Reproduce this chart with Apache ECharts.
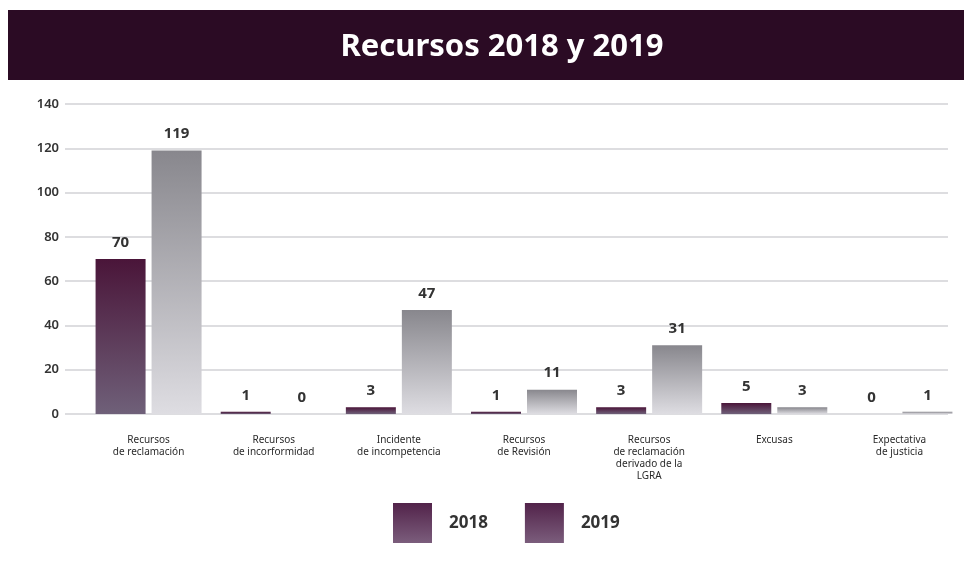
<!DOCTYPE html>
<html><head><meta charset="utf-8">
<script src="https://cdn.jsdelivr.net/npm/echarts@6/dist/echarts.min.js"></script>
<style>html,body{margin:0;padding:0;background:#fff}#c{width:964px;height:564px}</style>
</head><body><div id="c"></div>
<script>
const categories = ['Recursos\nde reclamación','Recursos\nde incorformidad','Incidente\nde incompetencia','Recursos\nde Revisión','Recursos\nde reclamación\nderivado de la\nLGRA','Excusas','Expectativa\nde justicia'];
const values2018 = [70, 1, 3, 1, 3, 5, 0];
const values2019 = [119, 0, 47, 11, 31, 3, 1];
const yTicks = [0, 20, 40, 60, 80, 100, 120, 140];

const grad = (a, b) => new echarts.graphic.LinearGradient(0, 0, 0, 1, [{offset:0,color:a},{offset:1,color:b}]);
const c2018 = grad('#4a1539', '#6f6079');
const c2019 = grad('#88878d', '#dedde2');
const lab = {show:true, position:'top', distance:9, fontFamily:'Noto Sans', fontWeight:'bold', fontSize:15, color:'#333'};

const chart = echarts.init(document.getElementById('c'));
chart.setOption({
  backgroundColor:'#fff',
  animation:false,
  graphic:[{type:'rect', left:8, top:10, shape:{width:956, height:70}, style:{fill:'#2b0b24'}, z:-1}],
  title:{text:'Recursos 2018 y 2019', left:497, textAlign:'center', top:27,
    textStyle:{color:'#fff', fontFamily:'Noto Sans', fontWeight:'bold', fontSize:31}},
  legend:{bottom:16, left:388, itemWidth:39, itemHeight:40, itemGap:37,
    icon:'rect',
    textStyle:{fontFamily:'Noto Sans', fontWeight:'bold', fontSize:17, color:'#333', padding:[0,0,0,12]},
    data:[{name:'2018', itemStyle:{color:grad('#52234a','#7b5d7c')}},
          {name:'2019', itemStyle:{color:grad('#52234a','#7b5d7c')}}]},
  grid:[
    {left:65, right:16, top:104, bottom:150},
    {left:86, right:2, top:104, bottom:150}
  ],
  xAxis:[
    {gridIndex:0, type:'category', data:categories, show:false},
    {gridIndex:1, type:'category', data:categories,
      axisLine:{show:false}, axisTick:{show:false},
      axisLabel:{interval:0, margin:20, fontFamily:'Noto Sans', fontSize:10, lineHeight:12, color:'#2a2a2a'}}
  ],
  yAxis:[
    {gridIndex:0, type:'value', min:yTicks[0], max:yTicks[yTicks.length-1], interval:20,
      axisLine:{show:false}, axisTick:{show:false},
      axisLabel:{margin:6, fontFamily:'Noto Sans', fontWeight:600, fontSize:13, color:'#333'},
      splitLine:{lineStyle:{color:'#d2d2d6', width:1.5}}},
    {gridIndex:1, type:'value', min:yTicks[0], max:yTicks[yTicks.length-1], interval:20,
      show:false, splitLine:{show:false}}
  ],
  series:[
    {name:'2018', type:'bar', xAxisIndex:1, yAxisIndex:1, data:values2018, barWidth:50, barGap:'12%',
      itemStyle:{color:c2018}, label:lab},
    {name:'2019', type:'bar', xAxisIndex:1, yAxisIndex:1, data:values2019, barWidth:50, barGap:'12%',
      itemStyle:{color:c2019}, label:lab}
  ]
});
</script></body></html>
